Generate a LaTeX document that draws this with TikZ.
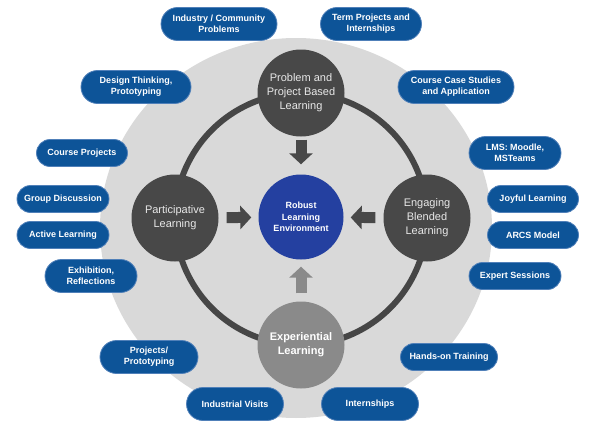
\documentclass[tikz,border=0pt]{standalone}
\usepackage{fontspec}
\setsansfont{Liberation Sans}
\usetikzlibrary{arrows.meta,shapes.misc,positioning}
\definecolor{diskgrey}{RGB}{217,217,217}
\definecolor{hubgrey}{RGB}{72,72,72}
\definecolor{ringgrey}{RGB}{70,70,70}
\definecolor{expgrey}{RGB}{138,138,138}
\definecolor{coreblue}{RGB}{36,64,160}
\definecolor{pillblue}{RGB}{13,84,152}
\definecolor{pilledge}{RGB}{80,128,185}
\definecolor{hubtext}{RGB}{232,232,232}
\tikzset{
    x=1pt, y=-1pt,
    hub/.style = {circle, fill=hubgrey, text=hubtext, minimum size=87pt, inner sep=0pt,
        align=center, font=\sffamily\fontsize{11}{14}\selectfont},
    core/.style = {hub, fill=coreblue, text=white, minimum size=85pt,
        font=\sffamily\bfseries\fontsize{9}{11.3}\selectfont},
    pill/.style = {rounded rectangle, fill=pillblue, draw=pilledge, line width=0.8pt,
        text=white, align=center, minimum width=94pt, minimum height=27pt, inner sep=1pt,
        font=\sffamily\bfseries\fontsize{9}{11}\selectfont},
    tall/.style = {minimum height=33pt},
    feed/.style = {-{Triangle[width=23pt,length=11pt]}, line width=11pt, draw=hubgrey,
        shorten <=8pt, shorten >=7pt}
}
\begin{document}
\begin{tikzpicture}
    \useasboundingbox (0,0) rectangle (590,439);

    % background disk and ring
    \fill[diskgrey] (296,228) ellipse [x radius=196, y radius=190];
    \coordinate (ringc) at (301,219);
    \draw[ringgrey, line width=6pt] (ringc) circle [radius=126];

    % four learning modes and the core
    \node[hub] (pbl) at (301,93) {Problem and\\Project Based\\Learning};
    \node[hub] (part) at (175,218) {Participative\\Learning};
    \node[hub] (blend) at (427,218) {Engaging\\Blended\\Learning};
    \node[hub, fill=expgrey, text=white, font=\sffamily\bfseries\fontsize{11}{14}\selectfont]
        (exp) at (301,345) {Experiential\\Learning};
    \node[core] (robust) at (301,217) {Robust\\Learning\\Environment};

    % arrows into the core
    \draw[feed, shorten <=3pt, shorten >=10pt] (pbl) -- (robust);
    \draw[feed] (part) -- (robust);
    \draw[feed] (blend) -- (robust);
    \draw[feed, draw=expgrey] (exp) -- (robust);

    % problem and project based
    \node[pill, tall, minimum width=118pt] (indprob) at (219,24) {Industry / Community\\Problems};
    \node[pill, tall, minimum width=103pt] (termint) at (371,24) {Term Projects and\\Internships};
    \node[pill, tall, minimum width=112pt] (design) at (136,87) {Design Thinking,\\Prototyping};
    \node[pill, tall, minimum width=118pt] (casestudy) at (456,87) {Course Case Studies\\ and Application};

    % participative
    \node[pill, minimum width=93pt] (courseproj) at (82,153) {Course Projects};
    \node[pill] (groupdisc) at (63,199) {Group Discussion};
    \node[pill] (active) at (63,235) {Active Learning};
    \node[pill, tall] (exhibit) at (91,276) {Exhibition,\\Reflections};

    % engaging blended
    \node[pill, tall] (lms) at (515,153) {LMS: Moodle,\\MSTeams};
    \node[pill, minimum width=93pt] (joyful) at (533,199) {Joyful Learning};
    \node[pill, minimum width=93pt] (arcs) at (533,235) {ARCS Model};
    \node[pill] (expert) at (515,276) {Expert Sessions};

    % experiential
    \node[pill, tall, minimum width=100pt] (projproto) at (149,357) {Projects/\\Prototyping};
    \node[pill, tall, minimum width=99pt] (indvisit) at (235,404) {Industrial Visits};
    \node[pill, tall, minimum width=99pt] (intern) at (370,404) {Internships};
    \node[pill, minimum width=99pt] (handson) at (449,357) {Hands-on Training};

\end{tikzpicture}
\end{document}
